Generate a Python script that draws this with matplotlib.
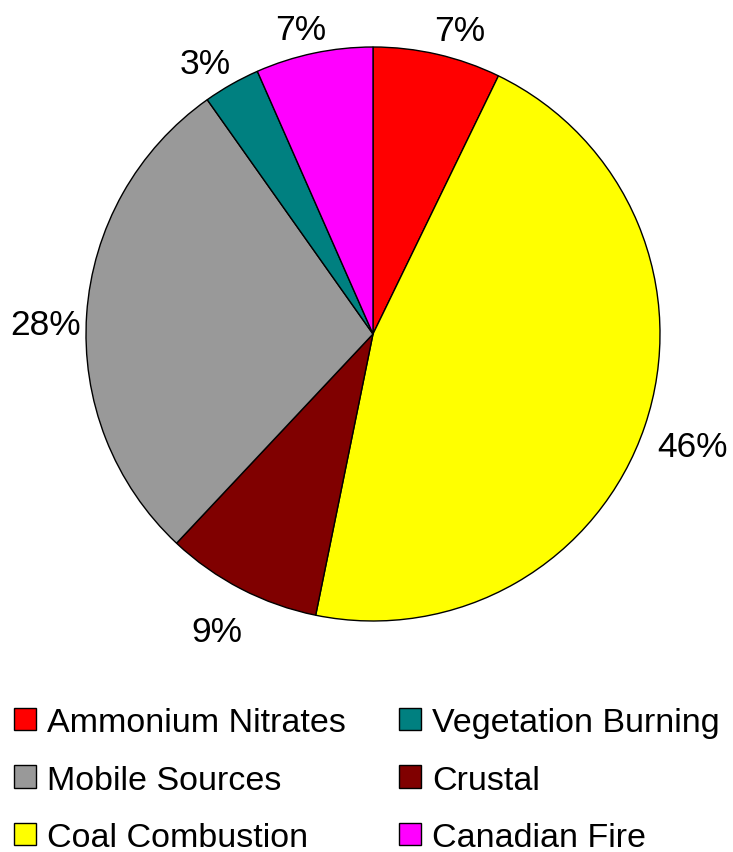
import numpy as np
import matplotlib.pyplot as plt

plt.rcParams['font.family'] = ['Liberation Sans', 'DejaVu Sans']

sources = ["Ammonium Nitrates", "Coal Combustion", "Crustal",
           "Mobile Sources", "Vegetation Burning", "Canadian Fire"]
shares = [7.2, 46.0, 8.8, 28.2, 3.2, 6.6]
colors = ["#ff0000", "#ffff00", "#800000", "#999999", "#008080", "#ff00ff"]
pct_labels = ["7%", "46%", "9%", "28%", "3%", "7%"]
# label placement: distance from centre (in radii) and angular nudge (deg)
label_dist = [1.10, 1.18, 1.17, 1.14, 1.11, 1.09]
label_nudge = [-3.0, -0.6, -0.3, 2.3, 2.2, 1.5]

fig = plt.figure(figsize=(7.33, 8.53), dpi=100)
R = 287
ax = fig.add_axes([(373 - 1.25 * R) / 733, (853 - 335 - 1.25 * R) / 853,
                   2.5 * R / 733, 2.5 * R / 853])

wedges, _ = ax.pie(shares, colors=colors, startangle=90, counterclock=False,
                   wedgeprops=dict(edgecolor="black", linewidth=1.0))
ax.set_xlim(-1.25, 1.25)
ax.set_ylim(-1.25, 1.25)
ax.set_aspect("equal")

for w, lab, d, nd in zip(wedges, pct_labels, label_dist, label_nudge):
    ang = np.deg2rad((w.theta1 + w.theta2) / 2 + nd)
    ax.text(d * np.cos(ang), d * np.sin(ang), lab, ha="center",
            va="center", fontsize=25.5, clip_on=False)

# legend order (column-major for ncol=2)
order = [0, 3, 1, 4, 2, 5]
fig.legend([wedges[i] for i in order], [sources[i] for i in order],
           ncol=2, loc="upper left", bbox_to_anchor=(14 / 733, 1 - 708 / 853),
           frameon=False, fontsize=24.5, borderpad=0, borderaxespad=0,
           handlelength=0.65, handleheight=0.65, handletextpad=0.33,
           columnspacing=1.55, labelspacing=0.78)

fig.savefig("out.png", dpi=100)
